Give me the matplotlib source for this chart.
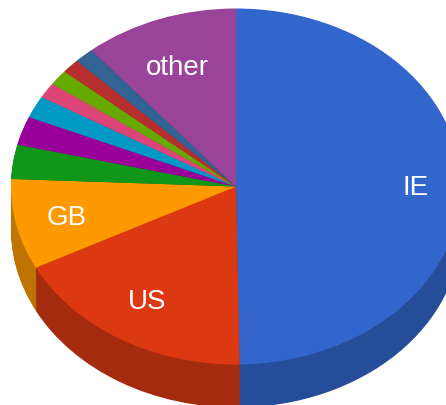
import matplotlib
matplotlib.use("Agg")
import matplotlib.pyplot as plt
from matplotlib.colors import to_rgb

plt.rcParams['font.family'] = ['Liberation Sans', 'DejaVu Sans']

W, H = 446, 405
CX, CY, RX, RY, DEPTH = 236, 186.5, 225, 178, 43

categories = ['IE', 'US', 'GB', 'c4', 'c5', 'c6', 'c7', 'c8', 'c9', 'c10', 'other']
values = [49.7, 17.7, 8.2, 3.1, 2.6, 2.0, 1.4, 1.4, 1.3, 1.4, 11.1]
colors = ['#3366CC', '#DC3912', '#FF9900', '#109618', '#990099', '#0099C6',
          '#DD4477', '#66AA00', '#B82E2E', '#316395', '#994499']
shown_labels = ['IE', 'US', 'GB', 'other']
label_px = [(416, 188), (147, 302), (67, 218), (177, 68)]

side = [tuple(c * 0.75 for c in to_rgb(col)) for col in colors]

fig = plt.figure(figsize=(W / 100, H / 100), dpi=100)
ax = fig.add_axes([0, 0, 1, 1])

for d in range(DEPTH, 0, -1):
    ax.pie(values, colors=side, startangle=90, counterclock=False,
           center=(0, -d / RY), radius=1, frame=False,
           wedgeprops={'linewidth': 0})
ax.pie(values, colors=colors, startangle=90, counterclock=False,
       center=(0, 0), radius=1, frame=False, wedgeprops={'linewidth': 0})

ax.set_aspect('auto')
ax.set_xlim(-CX / RX, (W - CX) / RX)
ax.set_ylim((CY - H) / RY, CY / RY)
ax.axis('off')

for name, (px, py) in zip(shown_labels, label_px):
    ax.text(px / W, 1 - py / H, name, transform=ax.transAxes, color='white',
            fontsize=20, ha='center', va='center')

fig.savefig('out.png', dpi=100)
